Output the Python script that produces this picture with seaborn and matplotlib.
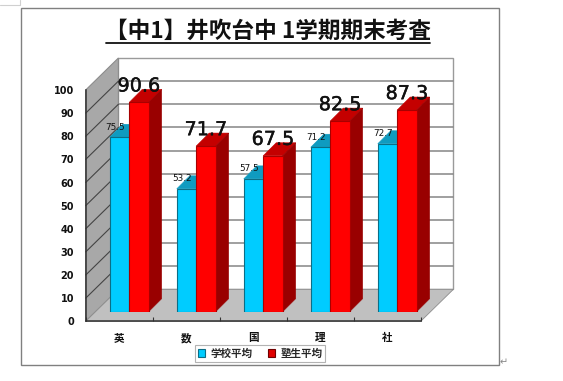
import matplotlib
matplotlib.use("Agg")
import matplotlib.pyplot as plt
import matplotlib.patheffects as pe
from matplotlib.lines import Line2D
from matplotlib.patches import Polygon, Rectangle
from matplotlib.transforms import IdentityTransform
import pandas as pd
import seaborn as sns

categories = ["英", "数", "国", "理", "社"]
school_avg = [75.5, 53.2, 57.5, 71.2, 72.7]
juku_avg = [90.6, 71.7, 67.5, 82.5, 87.3]
series_names = ["学校平均", "塾生平均"]
y_ticks = list(range(0, 101, 10))
title_text = "【中1】井吹台中 1学期期末考査"

W, H = 563, 381
sns.set_theme(style="white")
plt.rcParams["font.family"] = ["Noto Sans CJK JP", "DejaVu Sans"]
fig = plt.figure(figsize=(W / 100, H / 100), dpi=100, facecolor="white")


def box(x0, ytop, x1, ybot):
    return [x0 / W, 1 - ybot / H, (x1 - x0) / W, (ybot - ytop) / H]


# front axes: value axis at the front edge of the floor
front = fig.add_axes(box(85.7, 90, 420.7, 321.3), zorder=1)
front.set_xlim(-0.5, 4.5)
front.set_ylim(0, 100)
front.patch.set_alpha(0)
# bars axes: same scales, pushed part-way into the depth of the box
bars = fig.add_axes(box(95.7, 80.7, 430.7, 311.7), zorder=2)
bars.patch.set_alpha(0)

df = pd.DataFrame({
    "cat": categories * 2,
    "val": school_avg + juku_avg,
    "series": [series_names[0]] * 5 + [series_names[1]] * 5,
})
sns.barplot(data=df, x="cat", y="val", hue="series", ax=bars, width=0.58, gap=0,
            palette=["#00CCFF", "#FF0000"], saturation=1, legend=False,
            edgecolor="#0B6E86", linewidth=0.8)
bars.set_xlim(-0.5, 4.5)
bars.set_ylim(0, 100)
bars.axis("off")

# --- the box: walls, floor and grid, from the front axes' scale ---
DX, DY = 32.7, 32.0   # depth of the box in pixels


def to_px(a, x, y):
    return a.transData.transform((x, y))


fig.canvas.draw()
xl, xr = -0.5, 4.5
fl = to_px(front, xl, 0); fr = to_px(front, xr, 0)
tl = to_px(front, xl, 100)
d = (DX, DY)


def poly(a, pts, **kw):
    a.add_patch(Polygon(pts, closed=True, transform=IdentityTransform(),
                        clip_on=False, **kw))


# back wall
poly(front, [fl + d, fr + d, [fr[0] + DX, tl[1] + DY], tl + d],
     facecolor="white", edgecolor="#9A9A9A", linewidth=1.0, zorder=1)
for v in y_ticks[1:-1]:
    p = to_px(front, xl, v)
    q = to_px(front, xr, v)
    front.add_line(Line2D([p[0] + DX, q[0] + DX], [p[1] + DY, q[1] + DY],
                          transform=IdentityTransform(), color="#858585", lw=1.1,
                          clip_on=False, zorder=1.5))
# side wall
poly(front, [fl, fl + d, tl + d, tl], facecolor="#A8A8A8", edgecolor="#8C8C8C",
     linewidth=0.8, zorder=2)
for v in y_ticks[1:-1]:
    p = to_px(front, xl, v)
    front.add_line(Line2D([p[0], p[0] + DX], [p[1], p[1] + DY],
                          transform=IdentityTransform(), color="#444444", lw=0.8,
                          clip_on=False, zorder=2.5))
# floor
poly(front, [fl, fr, fr + d, fl + d], facecolor="#C0C0C0", edgecolor="#8C8C8C",
     linewidth=0.6, zorder=3)

front.spines[["top", "right"]].set_visible(False)
for s in ("left", "bottom"):
    front.spines[s].set_color("#333333")
    front.spines[s].set_linewidth(1.1)
    front.spines[s].set_zorder(4)
front.xaxis.set_zorder(5)
front.yaxis.set_zorder(5)
front.set_yticks(y_ticks)
front.set_xticks([i - 0.5 for i in range(0, 6)])
front.set_xticklabels([])
front.set_xticks(range(5), categories, minor=True)
front.tick_params(axis="y", left=False, length=2, pad=6.4)
front.tick_params(axis="x", which="major", length=3, width=0.8, color="#333333",
                  direction="in", bottom=True)
front.tick_params(axis="x", which="minor", length=0, pad=8.5)
for t in front.get_yticklabels():
    t.set_fontsize(7.0); t.set_fontweight("bold"); t.set_color("#111111")
    t.set_family(["DejaVu Sans"])
for t in front.get_xticklabels(minor=True):
    t.set_fontsize(7.6); t.set_fontweight("bold"); t.set_color("#111111")

# --- 3-D sides and tops of every bar ---
BD = 13.0  # bar depth in pixels
for n, patch in enumerate(bars.patches):
    x0, y0 = patch.get_x(), patch.get_y()
    x1, y1 = x0 + patch.get_width(), y0 + patch.get_height()
    a = to_px(bars, x0, y1); b = to_px(bars, x1, y1); c = to_px(bars, x1, y0)
    off = (BD, BD)
    is_red = n >= len(categories)
    top, side = ("#C40000", "#990000") if is_red else ("#0F9BC0", "#0F9BC0")
    z = 0.5 if not is_red else 1.5
    patch.set_zorder(z + 0.2)
    if is_red:
        patch.set_edgecolor("#A80000")
    poly(bars, [a, b, b + off, a + off], facecolor=top, edgecolor=top,
         linewidth=0.4, zorder=z)
    poly(bars, [b, c, c + off, b + off], facecolor=side, edgecolor=side,
         linewidth=0.4, zorder=z)

# --- value labels ---
n_cat = len(categories)
cyan = bars.patches[:n_cat]
red = bars.patches[n_cat:]
for patch, v in zip(cyan, school_avg):
    bars.annotate(f"{v:.1f}", (patch.get_x() + patch.get_width() / 2, v),
                  xytext=(-3.4, 7.2), textcoords="offset points", ha="center",
                  va="center", fontsize=6.4, color="#111111", zorder=1,
                  family=["DejaVu Sans"], annotation_clip=False)
for patch, v in zip(red, juku_avg):
    bars.annotate(f"{v:.1f}", (patch.get_x() + patch.get_width() / 2, v),
                  xytext=(0, 11.8), textcoords="offset points", ha="center",
                  va="center", fontsize=13.8, color="#111111", zorder=5,
                  family=["DejaVu Sans"], annotation_clip=False,
                  path_effects=[pe.withStroke(linewidth=0.3, foreground="#111111")])

# --- title, frame, legend ---
fig.text(268 / W, 1 - 31.5 / H, title_text, ha="center", va="center", fontsize=16.3,
         fontweight="bold", color="#111111")
fig.add_artist(Line2D([106 / W, 430 / W], [1 - 43.3 / H] * 2, color="#111111", lw=1.3))
fig.add_artist(Rectangle((21.3 / W, 1 - 365.3 / H), (499.3 - 21.3) / W, (365.3 - 7.5) / H,
                         transform=fig.transFigure, fill=False,
                         edgecolor="#808080", lw=1.0))
# corner of the neighbouring page element, top left
fig.add_artist(Line2D([0, 19.5 / W, 19.5 / W], [1 - 5 / H, 1 - 5 / H, 1], color="#D0D0D0", lw=0.8))

handles = [Rectangle((0, 0), 1, 1, facecolor="#00CCFF", edgecolor="#0B6E86", lw=0.8),
           Rectangle((0, 0), 1, 1, facecolor="#E00000", edgecolor="#700000", lw=0.8)]
leg = fig.legend(handles, series_names, loc="center", ncol=2, frameon=True,
                 bbox_to_anchor=(260 / W, 1 - 353.5 / H),
                 prop={"weight": "bold", "size": 7.6, "family": "Noto Sans CJK JP"},
                 handlelength=0.7, handleheight=0.7, handletextpad=0.45,
                 columnspacing=1.5, borderpad=0.3, fancybox=False,
                 edgecolor="#A0A0A0")
leg.get_frame().set_linewidth(0.8)

# paragraph mark beside the frame
fig.text(504 / W, 1 - 362 / H, "↵", ha="center", va="center", fontsize=7,
         color="#888888", family=["DejaVu Sans"])

fig.savefig("out.png", dpi=100, facecolor="white")
